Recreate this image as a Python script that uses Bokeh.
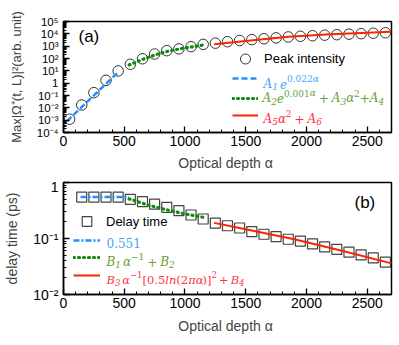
from bokeh.plotting import figure
from bokeh.layouts import column
from bokeh.models import (FixedTicker, CustomJSTickFormatter, Legend, LegendItem,
                          Label, Range1d)
from bokeh.embed import file_html
from bokeh.resources import INLINE

# ---------------- data ----------------
alpha_peak = [50, 150, 250, 350, 450, 550, 650, 750, 850, 950, 1050, 1150, 1250,
              1350, 1450, 1550, 1650, 1750, 1850, 1950, 2050, 2150, 2250, 2350,
              2450, 2550, 2650]
peak = [1.2e-3, 0.017, 0.17, 1.7, 9.8, 34, 95, 230, 430, 600, 910, 1400, 1750,
        2300, 2900, 3400, 4000, 4700, 5600, 6300, 7000, 7800, 8500, 9400,
        10300, 11200, 12300]

fitA1_alpha = [30, 440]
fitA1 = [8.5e-4, 6.3]
fitA2_alpha = [540, 650, 750, 850, 950, 1050, 1150]
fitA2 = [30, 83, 190, 370, 590, 850, 1230]
fitA5_alpha = [1240, 1500, 1850, 2200, 2700]
fitA5 = [1400, 2600, 5900, 9100, 14800]

alpha_delay = [150, 250, 350, 450, 550, 650, 750, 850, 950, 1050, 1150, 1250,
               1350, 1450, 1550, 1650, 1750, 1850, 1950, 2050, 2150, 2250, 2350,
               2450, 2550, 2650]
delay = [0.55, 0.55, 0.55, 0.55, 0.50, 0.455, 0.41, 0.36, 0.315, 0.263, 0.223,
         0.188, 0.169, 0.154, 0.133, 0.119, 0.108, 0.097, 0.090, 0.080, 0.071,
         0.064, 0.057, 0.051, 0.045, 0.038]

fitB0_alpha = [140, 540]
fitB0 = [0.551, 0.551]
fitB1_alpha = [540, 700, 850, 1000, 1150]
fitB1 = [0.51, 0.394, 0.325, 0.275, 0.239]
fitB3_alpha = [1240, 1500, 1900, 2300, 2700]
fitB3 = [0.19, 0.146, 0.097, 0.06, 0.036]

x_ticks = [0, 500, 1000, 1500, 2000, 2500]
x_minor = list(range(0, 2701, 100))
y_ticks_a = [1e-4, 1e-3, 1e-2, 1e-1, 1, 1e1, 1e2, 1e3, 1e4, 1e5]
y_ticks_b = [1e-2, 1e-1, 1]

x_label = "Optical depth  \u03b1"
y_label_a = "Max|\u03a9\u207a(t, L)|\u00b2(arb. unit)"
y_label_b = "delay time (ps)"

# ---------------- styles ----------------
SANS = "Liberation Sans"
SERIF = "DejaVu Serif"
BLUE, BLUE_T = "#1E90FF", "#3DA5FF"
GREEN, GREEN_T = "#0F8A0F", "#6A9F38"
RED, RED_T = "#FF2200", "#FF3344"

fmt = CustomJSTickFormatter(code="""
const e = Math.round(Math.log10(tick));
if (e === 0) return "1";
const sup = {"-":"\u207b","0":"\u2070","1":"\u00b9","2":"\u00b2","3":"\u00b3","4":"\u2074",
             "5":"\u2075","6":"\u2076","7":"\u2077","8":"\u2078","9":"\u2079"};
return "10" + String(e).split("").map(c => sup[c]).join("");
""")


def minor_log(ticks):
    out = []
    for t in ticks[:-1]:
        out += [m * t for m in range(2, 10)]
    return out


def style(p, yticks, ylabel, ytick_size):
    p.xgrid.visible = False
    p.ygrid.visible = False
    p.outline_line_color = "black"
    p.outline_line_width = 1.5
    for ax in (p.xaxis[0], p.yaxis[0]):
        ax.axis_line_width = 1.5
        ax.major_tick_in = 6
        ax.major_tick_out = 0
        ax.minor_tick_in = 3
        ax.minor_tick_out = 0
        ax.major_tick_line_width = 1.3
        ax.minor_tick_line_width = 1
        ax.major_label_text_font = SANS
        ax.axis_label_text_font = SANS
        ax.axis_label_text_font_style = "normal"
        ax.major_label_text_color = "black"
    p.xaxis[0].ticker = FixedTicker(ticks=x_ticks, minor_ticks=x_minor)
    p.xaxis[0].major_label_text_font_size = "14px"
    p.xaxis[0].axis_label = x_label
    p.xaxis[0].axis_label_text_font_size = "14px"
    p.xaxis[0].major_label_standoff = 3
    p.xaxis[0].axis_label_standoff = 6
    p.yaxis[0].ticker = FixedTicker(ticks=yticks, minor_ticks=minor_log(yticks))
    p.yaxis[0].formatter = fmt
    p.yaxis[0].major_label_text_font_size = ytick_size
    p.yaxis[0].major_label_standoff = 5
    p.yaxis[0].axis_label = ylabel
    p.yaxis[0].axis_label_standoff = 10


# approximate DejaVu Serif advance widths (em)
CW = {'0': .636, '1': .636, '2': .636, '3': .636, '4': .636, '5': .636, '6': .636,
      '7': .636, '8': .636, '9': .636, '.': .318, '+': .838, 'A': .722, 'B': .735,
      'e': .592, 'l': .320, 'n': .644, '(': .390, ')': .390, '[': .390, ']': .390,
      '\u03b1': .66, '\u03c0': .60, '\u2212': .838}


def runs(p, x, y, pieces, color, size=12, small=9):
    for piece in pieces:
        if piece[0] == "gap":
            x += piece[1]
            continue
        text, kind, st = piece
        fs = size if kind == "n" else small
        dy = 0 if kind == "n" else (5 if kind == "sup" else -3)
        p.add_layout(Label(x=x, y=y + dy, x_units="screen", y_units="screen",
                           text=text, text_font=SERIF, text_font_size=f"{fs}px",
                           text_font_style=st, text_color=color,
                           text_baseline="alphabetic", text_align="left"))
        x += sum(CW.get(ch, .6) for ch in text) * fs


def legend_item(p, r, label, x, yc, gh=10, gw=26, font_size="13px"):
    leg = Legend(items=[LegendItem(label=label, renderers=[r])],
                 location=(x, yc - gh / 2), padding=0, margin=0, spacing=0,
                 border_line_color=None, background_fill_alpha=0,
                 glyph_width=gw, glyph_height=gh, label_height=4,
                 label_standoff=6, label_text_font=SANS,
                 label_text_font_size=font_size, label_text_color="black")
    p.add_layout(leg)


G = ("gap", 3)
g2 = ("gap", 2)

# ---------------- panel (a) ----------------
p1 = figure(width=398, height=178, x_range=Range1d(0, 2700),
            y_range=Range1d(1e-4, 1e5), y_axis_type="log",
            output_backend="svg", toolbar_location=None,
            min_border_left=63, min_border_right=7, min_border_top=21,
            min_border_bottom=46)
style(p1, y_ticks_a, y_label_a, "11.5px")
p1.yaxis[0].axis_label_text_font_size = "13px"

c = p1.scatter(alpha_peak, peak, marker="circle", size=10.5, fill_color=None,
               line_color="#333333", line_width=1)
l1 = p1.line(fitA1_alpha, fitA1, line_color=BLUE, line_width=2.5, line_dash="6 3")
l2 = p1.line(fitA2_alpha, fitA2, line_color=GREEN, line_width=3.2,
             line_dash="1 4", line_cap="round")
l3 = p1.line(fitA5_alpha, fitA5, line_color=RED, line_width=2)

legend_item(p1, c, "Peak intensity", 169, 73.3, gh=25)
legend_item(p1, l1, " ", 169, 54.5, font_size="1px")
legend_item(p1, l2, " ", 169, 34, font_size="1px")
legend_item(p1, l3, " ", 169, 17, font_size="1px")

runs(p1, 200, 49, [("A", "n", "italic"), ("1", "sub", "italic"), g2, ("e", "n", "italic"),
                   ("0.022", "sup", "normal"), ("\u03b1", "sup", "italic")], BLUE_T)
runs(p1, 199, 34.5, [("A", "n", "italic"), ("2", "sub", "italic"), ("e", "n", "italic"),
                     ("0.001", "sup", "normal"), ("\u03b1", "sup", "italic"), G,
                     ("+", "n", "normal"), G, ("A", "n", "italic"), ("3", "sub", "italic"),
                     ("\u03b1", "n", "italic"), ("2", "sup", "normal"),
                     ("+", "n", "normal"), ("A", "n", "italic"), ("4", "sub", "italic")],
     GREEN_T)
runs(p1, 200, 14, [("A", "n", "italic"), ("5", "sub", "italic"), ("\u03b1", "n", "italic"),
                   ("2", "sup", "normal"), G, ("+", "n", "normal"), G,
                   ("A", "n", "italic"), ("6", "sub", "italic")], RED_T)

p1.add_layout(Label(x=15, y=96, x_units="screen", y_units="screen", text="(a)",
                    text_font=SANS, text_font_size="17px", text_baseline="middle",
                    text_color="black"))

# ---------------- panel (b) ----------------
p2 = figure(width=398, height=159, x_range=Range1d(0, 2700),
            y_range=Range1d(1e-2, 1), y_axis_type="log",
            output_backend="svg", toolbar_location=None,
            min_border_left=63, min_border_right=7, min_border_top=4,
            min_border_bottom=43)
style(p2, y_ticks_b, y_label_b, "14px")
p2.yaxis[0].axis_label_text_font_size = "14px"
p2.xaxis[0].axis_label_standoff = 7

s = p2.scatter(alpha_delay, delay, marker="square", size=10, fill_color=None,
               line_color="#444444", line_width=1.2)
m1 = p2.line(fitB0_alpha, fitB0, line_color=BLUE, line_width=2.5, line_dash="6 2 2 2")
m2 = p2.line(fitB1_alpha, fitB1, line_color=GREEN, line_width=3.2,
             line_dash="1 4", line_cap="round")
m3 = p2.line(fitB3_alpha, fitB3, line_color=RED, line_width=2)

legend_item(p2, s, "Delay time", 10, 73, gh=24, gw=27)
legend_item(p2, m1, " ", 10, 54.5, gw=27, font_size="1px")
legend_item(p2, m2, " ", 10, 37, gw=27, font_size="1px")
legend_item(p2, m3, " ", 10, 19, gw=27, font_size="1px")

runs(p2, 43, 51.7, [("0.551", "n", "normal")], BLUE_T)
runs(p2, 43, 33, [("B", "n", "italic"), ("1", "sub", "italic"), g2,
                  ("\u03b1", "n", "italic"), ("\u22121", "sup", "normal"), G,
                  ("+", "n", "normal"), G, ("B", "n", "italic"), ("2", "sub", "italic")],
     GREEN_T)
runs(p2, 43, 15, [("B", "n", "italic"), ("3", "sub", "italic"), g2,
                  ("\u03b1", "n", "italic"), ("\u22121", "sup", "normal"),
                  ("[0.5", "n", "normal"), ("ln", "n", "italic"), ("(2", "n", "normal"),
                  ("\u03c0\u03b1", "n", "italic"), (")]", "n", "normal"),
                  ("2", "sup", "normal"), ("gap", 2), ("+", "n", "normal"), ("gap", 2),
                  ("B", "n", "italic"), ("4", "sub", "italic")], RED_T, size=11.5, small=8.5)

p2.add_layout(Label(x=291, y=92, x_units="screen", y_units="screen", text="(b)",
                    text_font=SANS, text_font_size="17px", text_baseline="middle",
                    text_color="black"))

layout = column(p1, p2, spacing=0)
open("out.html", "w").write(file_html(layout, INLINE))
